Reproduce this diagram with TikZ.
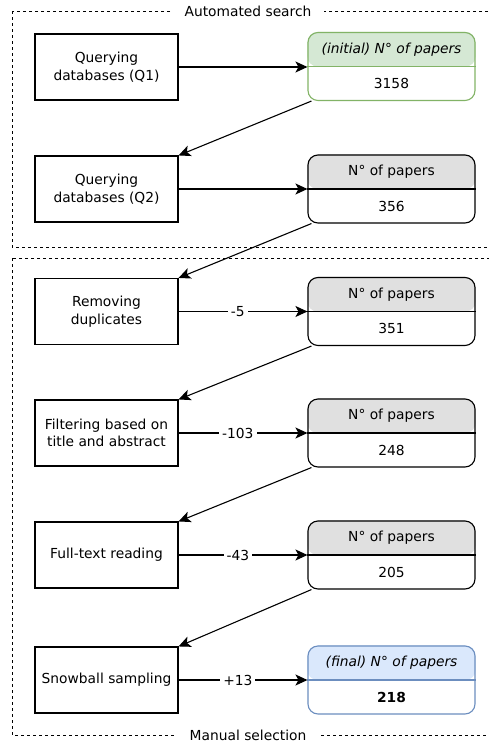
\documentclass[tikz,border=0pt]{standalone}
\usepackage{fontspec}
\setmainfont{DejaVu Sans}
\usetikzlibrary{arrows.meta,backgrounds}
\definecolor{hdrgreen}{HTML}{D5E8D4}
\definecolor{edgegreen}{HTML}{82B366}
\definecolor{hdrgray}{HTML}{E0E0E0}
\definecolor{hdrblue}{HTML}{DAE8FC}
\definecolor{edgeblue}{HTML}{6C8EBF}
\definecolor{ink}{HTML}{000000}

\begin{document}
\begin{tikzpicture}[x=1pt,y=-1pt,
  font=\fontsize{13.8}{17.5}\selectfont,
  stepbox/.style={draw=ink, line width=1.1pt, minimum width=143pt, minimum height=66pt,
    align=center, inner sep=2pt},
  countbox/.style={draw=#1, line width=1.1pt, rounded corners=10pt,
    minimum width=167pt, minimum height=68pt, inner sep=0pt},
  flow/.style={draw=ink, line width=1.1pt, -{Stealth[length=12pt,width=11pt,inset=3pt]}},
  region/.style={draw=ink, dash pattern=on 3pt off 3pt, line width=0.9pt},
  tag/.style={fill=white, inner sep=3pt},
  title/.style={fill=white, inner xsep=13pt, inner ysep=1pt},
]
\clip (0,0) rectangle (489,745);

% dashed groups
\draw[region] (12,11) rectangle (500,247);
\draw[region] (12,258) rectangle (500,735);
\node[title] (tauto) at (248,11) {Automated search};
\node[title] (tmanual) at (248,735) {Manual selection};

% process steps
\node[stepbox] (s1) at (106.5,67) {Querying\\databases (Q1)};
\node[stepbox] (s2) at (106.5,189) {Querying\\databases (Q2)};
\node[stepbox] (s3) at (106.5,311.5) {Removing\\duplicates};
\node[stepbox] (s4) at (106.5,433) {Filtering based on\\title and abstract};
\node[stepbox] (s5) at (106.5,555) {Full-text reading};
\node[stepbox] (s6) at (106.5,680) {Snowball sampling};

% paper counts
\node[countbox=edgegreen] (c1) at (391.5,66.5) {};
\node[countbox=ink] (c2) at (391.5,189) {};
\node[countbox=ink] (c3) at (391.5,311.5) {};
\node[countbox=ink] (c4) at (391.5,433) {};
\node[countbox=ink] (c5) at (391.5,555) {};
\node[countbox=edgeblue] (c6) at (391.5,680) {};

\begin{scope}[on background layer]
  \fill[hdrgreen, rounded corners=10pt] (c1.west) |- (c1.north) -| (c1.east) -- cycle;
  \foreach \n in {c2,c3,c4,c5}
    \fill[hdrgray, rounded corners=10pt] (\n.west) |- (\n.north) -| (\n.east) -- cycle;
  \fill[hdrblue, rounded corners=10pt] (c6.west) |- (c6.north) -| (c6.east) -- cycle;
\end{scope}
\draw[edgegreen, line width=1.1pt] (c1.west) -- (c1.east);
\foreach \n in {c2,c3,c4,c5}
  \draw[ink, line width=1.1pt] (\n.west) -- (\n.east);
\draw[edgeblue, line width=1.1pt] (c6.west) -- (c6.east);

\node (h1) at ([yshift=17pt]c1.center) {\itshape (initial) N° of papers};
\node (v1) at ([yshift=-17pt]c1.center) {3158};
\node (h2) at ([yshift=17pt]c2.center) {N° of papers};
\node (v2) at ([yshift=-17pt]c2.center) {356};
\node (h3) at ([yshift=17pt]c3.center) {N° of papers};
\node (v3) at ([yshift=-17pt]c3.center) {351};
\node (h4) at ([yshift=17pt]c4.center) {N° of papers};
\node (v4) at ([yshift=-17pt]c4.center) {248};
\node (h5) at ([yshift=17pt]c5.center) {N° of papers};
\node (v5) at ([yshift=-17pt]c5.center) {205};
\node (h6) at ([yshift=17pt]c6.center) {\itshape (final) N° of papers};
\node (v6) at ([yshift=-17pt]c6.center) {\bfseries 218};

% step -> count
\draw[flow] (s1.east) -- (s1.east -| c1.west);
\draw[flow] (s2.east) -- (c2.west);
\draw[flow] (s3.east) -- node[tag, pos=0.46] {-5} (c3.west);
\draw[flow] (s4.east) -- node[tag, pos=0.46] {-103} (c4.west);
\draw[flow] (s5.east) -- node[tag, pos=0.46] {-43} (c5.west);
\draw[flow] (s6.east) -- node[tag, pos=0.46] {+13} (c6.west);

% count -> next step
\draw[flow] ([xshift=4pt]c1.south west) -- (s2.north east);
\draw[flow] ([xshift=4pt]c2.south west) -- (s3.north east);
\draw[flow] ([xshift=4pt]c3.south west) -- (s4.north east);
\draw[flow] ([xshift=4pt]c4.south west) -- (s5.north east);
\draw[flow] ([xshift=4pt]c5.south west) -- (s6.north east);
\end{tikzpicture}
\end{document}
